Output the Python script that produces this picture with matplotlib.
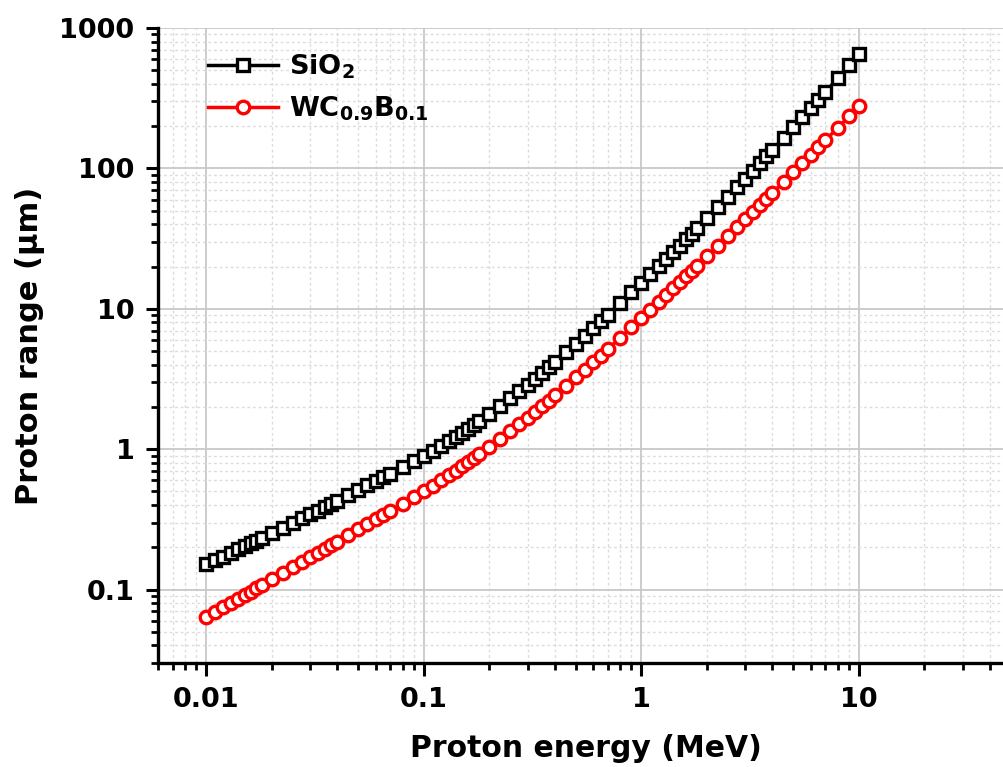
import matplotlib
matplotlib.use("Agg")
import matplotlib.pyplot as plt
from matplotlib.ticker import LogLocator, FixedLocator, FixedFormatter, NullFormatter

# Proton energies (MeV), SRIM table grid from 10 keV to 10 MeV
energy = [
    0.010, 0.011, 0.012, 0.013, 0.014, 0.015, 0.016, 0.017, 0.018, 0.020,
    0.0225, 0.025, 0.0275, 0.030, 0.0325, 0.035, 0.0375, 0.040, 0.045, 0.050,
    0.055, 0.060, 0.065, 0.070, 0.080, 0.090,
    0.10, 0.11, 0.12, 0.13, 0.14, 0.15, 0.16, 0.17, 0.18, 0.20,
    0.225, 0.25, 0.275, 0.30, 0.325, 0.35, 0.375, 0.40, 0.45, 0.50,
    0.55, 0.60, 0.65, 0.70, 0.80, 0.90,
    1.0, 1.1, 1.2, 1.3, 1.4, 1.5, 1.6, 1.7, 1.8, 2.0,
    2.25, 2.5, 2.75, 3.0, 3.25, 3.5, 3.75, 4.0, 4.5, 5.0,
    5.5, 6.0, 6.5, 7.0, 8.0, 9.0,
    10.0,
]

# Projected range (um) in SiO2
range_sio2 = [
    0.151, 0.162, 0.172, 0.183, 0.193, 0.203, 0.213, 0.223, 0.232, 0.252,
    0.275, 0.298, 0.321, 0.343, 0.365, 0.387, 0.408, 0.429, 0.471, 0.512,
    0.552, 0.593, 0.632, 0.671, 0.748, 0.824,
    0.900, 0.975, 1.054, 1.136, 1.221, 1.308, 1.396, 1.489, 1.582, 1.777,
    2.032, 2.301, 2.582, 2.877, 3.184, 3.501, 3.830, 4.171, 4.887, 5.645,
    6.443, 7.282, 8.161, 9.074, 11.01, 13.08,
    15.28, 17.62, 20.09, 22.68, 25.39, 28.23, 31.18, 34.26, 37.47, 44.18,
    53.24, 62.95, 73.4, 84.5, 96.2, 108.7, 121.7, 135.5, 164.8, 196.7,
    231.1, 268.0, 307.3, 349.4, 440.3, 541.2,
    651.6,
]

# Projected range (um) in WC0.9B0.1
range_wcb = [
    0.0640, 0.0696, 0.0752, 0.0806, 0.0861, 0.0915, 0.0968, 0.1022, 0.1076, 0.1181,
    0.1312, 0.1442, 0.1568, 0.1695, 0.1821, 0.1946, 0.2070, 0.2193, 0.2438, 0.2681,
    0.2923, 0.3162, 0.3398, 0.3634, 0.4102, 0.4565,
    0.5023, 0.550, 0.600, 0.650, 0.701, 0.754, 0.808, 0.863, 0.919, 1.035,
    1.185, 1.342, 1.506, 1.675, 1.852, 2.033, 2.222, 2.415, 2.818, 3.245,
    3.690, 4.159, 4.647, 5.155, 6.228, 7.374,
    8.596, 9.86, 11.18, 12.56, 13.99, 15.48, 17.01, 18.59, 20.22, 23.64,
    28.17, 32.95, 38.0, 43.3, 48.9, 54.7, 60.7, 66.9, 80.1, 94.2,
    109.0, 124.7, 141.1, 158.4, 195.0, 234.3,
    276.7,
]

x_ticks = [0.01, 0.1, 1, 10]
x_ticklabels = ["0.01", "0.1", "1", "10"]
y_ticks = [0.1, 1, 10, 100, 1000]
y_ticklabels = ["0.1", "1", "10", "100", "1000"]

plt.rcParams["font.family"] = ["DejaVu Sans"]
plt.rcParams["font.weight"] = "bold"
plt.rcParams["mathtext.default"] = "bf"

fig = plt.figure(figsize=(10.04, 7.67), dpi=100)
ax = fig.add_axes([158 / 1004, 1 - 663 / 767, 1 - 158 / 1004, (663 - 28) / 767])

ax.plot(energy, range_sio2, color="black", lw=2.5, marker="s", ms=8,
        mfc="white", mec="black", mew=2.4, label="SiO$_2$", zorder=3)
ax.plot(energy, range_wcb, color="#ff0000", lw=2.5, marker="o", ms=9,
        mfc="white", mec="#ff0000", mew=2.4, label="WC$_{0.9}$B$_{0.1}$", zorder=3)

ax.set_xscale("log")
ax.set_yscale("log")
ax.set_xlim(0.006, 46.4)
ax.set_ylim(0.03, 1000)

ax.xaxis.set_major_locator(FixedLocator(x_ticks))
ax.xaxis.set_major_formatter(FixedFormatter(x_ticklabels))
ax.yaxis.set_major_locator(FixedLocator(y_ticks))
ax.yaxis.set_major_formatter(FixedFormatter(y_ticklabels))
ax.xaxis.set_minor_locator(LogLocator(base=10, subs=range(2, 10), numticks=20))
ax.yaxis.set_minor_locator(LogLocator(base=10, subs=range(2, 10), numticks=20))
ax.xaxis.set_minor_formatter(NullFormatter())
ax.yaxis.set_minor_formatter(NullFormatter())

ax.grid(True, which="major", color="#c8c8c8", lw=1.3, ls="-", zorder=0)
ax.grid(True, which="minor", color="#dcdcdc", lw=1.0, ls=(0, (2, 2)), zorder=0)
ax.set_axisbelow(True)

for side in ("top", "right"):
    ax.spines[side].set_visible(False)
for side in ("left", "bottom"):
    ax.spines[side].set_linewidth(2.4)

ax.tick_params(which="major", direction="out", length=9, width=2.2,
               labelsize=19.5, pad=8)
ax.tick_params(which="minor", direction="out", length=5, width=2.0)
for lab in ax.get_xticklabels() + ax.get_yticklabels():
    lab.set_fontweight("bold")

ax.set_xlabel("Proton energy (MeV)", fontsize=21.5, fontweight="bold", va="center")
ax.set_ylabel("Proton range (\u03bcm)", fontsize=22, fontweight="bold", va="center")
ax.xaxis.set_label_coords(0.506, -0.134)
ax.yaxis.set_label_coords(-0.151, 0.5)

leg = ax.legend(loc="upper left", bbox_to_anchor=(0.03, 1.0), frameon=False,
                prop={"size": 19.5, "weight": "bold"}, handlelength=2.6,
                handletextpad=0.4, labelspacing=0.5, numpoints=1)

fig.savefig("out.png", dpi=100)
